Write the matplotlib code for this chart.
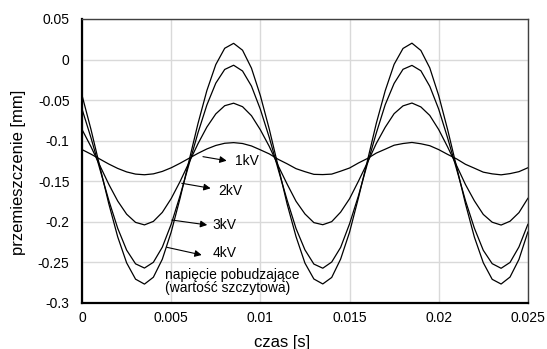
import matplotlib
matplotlib.use("Agg")
import matplotlib.pyplot as plt
import numpy as np

plt.rcParams['font.family'] = ['Liberation Sans', 'DejaVu Sans']

# time axis [s]
czas = [round(0.0005 * i, 4) for i in range(51)]

u_4kV = [-0.0442, -0.0861, -0.1321, -0.1778, -0.2186, -0.2506, -0.2707, -0.2768, -0.2683, -0.2462,
         -0.2126, -0.1707, -0.1247, -0.0790, -0.0382, -0.0062, 0.0139, 0.0200, 0.0115, -0.0106,
         -0.0445, -0.0858, -0.1318, -0.1781, -0.2183, -0.2509, -0.2705, -0.2766, -0.2686, -0.2460,
         -0.2129, -0.1704, -0.1250, -0.0787, -0.0385, -0.0059, 0.0137, 0.0202, 0.0112, -0.0103,
         -0.0444, -0.0863, -0.1319, -0.1776, -0.2188, -0.2504, -0.2709, -0.2767, -0.2681, -0.2464,
         -0.2126]
u_3kV = [-0.0611, -0.0964, -0.1351, -0.1736, -0.2080, -0.2349, -0.2518, -0.2570, -0.2499, -0.2313,
         -0.2029, -0.1676, -0.1289, -0.0904, -0.0560, -0.0291, -0.0122, -0.0070, -0.0141, -0.0327,
         -0.0614, -0.0961, -0.1354, -0.1733, -0.2083, -0.2346, -0.2521, -0.2572, -0.2496, -0.2316,
         -0.2026, -0.1679, -0.1286, -0.0907, -0.0557, -0.0294, -0.0120, -0.0072, -0.0138, -0.0330,
         -0.0611, -0.0966, -0.1349, -0.1738, -0.2078, -0.2351, -0.2516, -0.2573, -0.2501, -0.2310,
         -0.2031]
u_2kV = [-0.0863, -0.1074, -0.1307, -0.1538, -0.1744, -0.1906, -0.2007, -0.2038, -0.1995, -0.1884,
         -0.1713, -0.1502, -0.1269, -0.1038, -0.0832, -0.0670, -0.0569, -0.0538, -0.0581, -0.0692,
         -0.0866, -0.1071, -0.1310, -0.1535, -0.1747, -0.1903, -0.2010, -0.2036, -0.1998, -0.1881,
         -0.1716, -0.1499, -0.1272, -0.1035, -0.0835, -0.0667, -0.0571, -0.0536, -0.0584, -0.0689,
         -0.0863, -0.1077, -0.1305, -0.1540, -0.1741, -0.1909, -0.2005, -0.2040, -0.1993, -0.1887,
         -0.1711]
u_1kV = [-0.1110, -0.1166, -0.1227, -0.1288, -0.1342, -0.1385, -0.1412, -0.1420, -0.1409, -0.1379,
         -0.1334, -0.1278, -0.1217, -0.1156, -0.1102, -0.1059, -0.1032, -0.1024, -0.1035, -0.1065,
         -0.1113, -0.1163, -0.1230, -0.1285, -0.1345, -0.1382, -0.1415, -0.1418, -0.1412, -0.1376,
         -0.1337, -0.1275, -0.1220, -0.1153, -0.1105, -0.1056, -0.1035, -0.1022, -0.1038, -0.1062,
         -0.1110, -0.1169, -0.1224, -0.1291, -0.1339, -0.1388, -0.1409, -0.1421, -0.1406, -0.1382,
         -0.1334]

series = [u_1kV, u_2kV, u_3kV, u_4kV]

x_ticks = [0, 0.005, 0.01, 0.015, 0.02, 0.025]
x_ticklabels = ['0', '0.005', '0.01', '0.015', '0.02', '0.025']
y_ticks = [-0.3, -0.25, -0.2, -0.15, -0.1, -0.05, 0, 0.05]
y_ticklabels = ['-0.3', '-0.25', '-0.2', '-0.15', '-0.1', '-0.05', '0', '0.05']

labels = ['1kV', '2kV', '3kV', '4kV']
arrow_start = [(0.00678, -0.1197), (0.00559, -0.1525), (0.00503, -0.1978), (0.00475, -0.2314)]
arrow_end = [(0.00811, -0.1247), (0.00721, -0.1587), (0.00702, -0.2039), (0.00671, -0.2409)]
text_pos = [(0.00858, -0.1253), (0.00762, -0.1617), (0.00729, -0.2040), (0.00734, -0.2390)]

note_lines = ['napięcie pobudzające', '(wartość szczytowa)']
note_pos = [(0.00465, -0.2656), (0.00465, -0.2817)]

fig = plt.figure(figsize=(5.47, 3.49), dpi=100)
ax = fig.add_axes([0.150, 0.132, 0.815, 0.8136])

for s in series:
    ax.plot(czas, s, color='black', lw=0.9)

ax.set_xlim(0, 0.025)
ax.set_ylim(-0.3, 0.05)
ax.set_xticks(x_ticks)
ax.set_xticklabels(x_ticklabels)
ax.set_yticks(y_ticks)
ax.set_yticklabels(y_ticklabels)
ax.tick_params(axis='y', length=0, labelsize=10, pad=9, colors='black')
ax.tick_params(axis='x', length=0, labelsize=10, pad=6, colors='black')
ax.grid(True, color='#d9d9d9', lw=1.0)
ax.set_axisbelow(True)

for side in ['left', 'bottom']:
    ax.spines[side].set_color('black')
    ax.spines[side].set_linewidth(1.6)
for side in ['top', 'right']:
    ax.spines[side].set_color('#404040')
    ax.spines[side].set_linewidth(1.0)

ax.set_xlabel('czas [s]', fontsize=12, va='top')
ax.set_ylabel('przemieszczenie [mm]', fontsize=12)
ax.xaxis.set_label_coords(0.4496, -0.112)
ax.yaxis.set_label_coords(-0.125, 0.461)

for lab, st, en, tp in zip(labels, arrow_start, arrow_end, text_pos):
    ax.annotate('', xy=en, xytext=st,
                arrowprops=dict(arrowstyle='-|>', color='black', lw=0.8,
                                mutation_scale=10, shrinkA=0, shrinkB=0))
    ax.text(tp[0], tp[1], lab, fontsize=10, ha='left', va='center')

for line, pos in zip(note_lines, note_pos):
    ax.text(pos[0], pos[1], line, fontsize=10, ha='left', va='center')

fig.savefig('out.png', dpi=100)
